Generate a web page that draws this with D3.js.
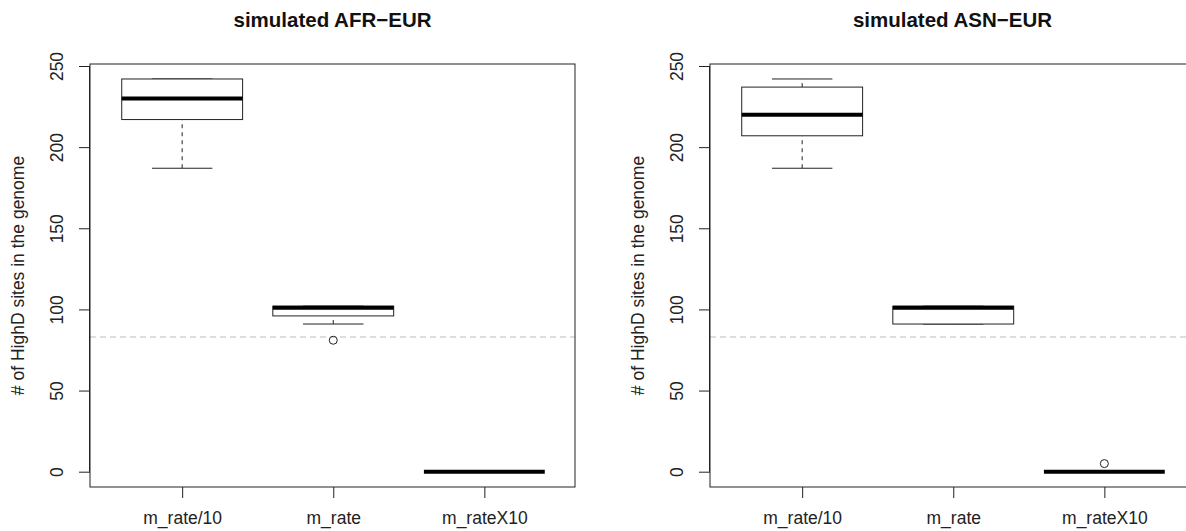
<!DOCTYPE html>
<html>
<head>
<meta charset="utf-8">
<script src="https://cdn.jsdelivr.net/npm/d3@7"></script>
<style>
  html, body { margin: 0; padding: 0; background: #fff; }
  svg { display: block; font-family: "Liberation Sans", Arial, sans-serif; }
</style>
</head>
<body>
<svg id="chart" width="1186" height="531"></svg>
<script>
// Group labels along the x axis
const categories = ["m_rate/10", "m_rate", "m_rateX10"];
const yTicks = [0, 50, 100, 150, 200, 250];

// Box summaries per group: [lower whisker, Q1, median, Q3, upper whisker]
const afrEurStats = [
  [187, 217, 230, 242, 242],
  [91, 96, 101, 102, 102],
  [0, 0, 0, 0, 0]
];
const afrEurOutliers = [[], [81], []];

const asnEurStats = [
  [187, 207, 220, 237, 242],
  [91, 91, 101, 102, 102],
  [0, 0, 0, 0, 0]
];
const asnEurOutliers = [[], [], [5]];

// Observed level drawn as a dashed reference line
const observedLevel = 83;

const panelTitles = ["simulated AFR\u2212EUR", "simulated ASN\u2212EUR"];
const yLabel = "# of HighD sites in the genome";

const svg = d3.select("#chart");

// Plot-region geometry (left panel); the second panel is shifted right
const plot = { left: 90, right: 575, top: 64, bottom: 487 };
const panelOffsets = [0, 620];

function drawPanel(offset, title, stats, outliers) {
  const g = svg.append("g").attr("transform", `translate(${offset},0)`);

  const x = d3.scaleLinear().domain([0.39, 3.6]).range([plot.left, plot.right]);
  const y = d3.scaleLinear().domain([0, 250]).range([471.7, 66]);
  const boxHalf = 0.4, capHalf = 0.2;

  // clip for reference line
  const clipId = "clip" + offset;
  g.append("clipPath").attr("id", clipId)
    .append("rect")
    .attr("x", plot.left).attr("y", plot.top)
    .attr("width", plot.right - plot.left).attr("height", plot.bottom - plot.top);

  // dashed reference line
  g.append("line")
    .attr("clip-path", `url(#${clipId})`)
    .attr("x1", plot.left).attr("x2", plot.right)
    .attr("y1", y(observedLevel)).attr("y2", y(observedLevel))
    .attr("stroke", "#bdbdbd").attr("stroke-width", 1.2)
    .attr("stroke-dasharray", "6,4");

  const groups = g.selectAll("g.box")
    .data(stats.map((s, i) => ({ s, i, out: outliers[i] })))
    .join("g").attr("class", "box");

  // whiskers (dashed)
  groups.append("line")
    .attr("x1", d => x(d.i + 1)).attr("x2", d => x(d.i + 1))
    .attr("y1", d => y(d.s[0])).attr("y2", d => y(d.s[1]))
    .attr("stroke", "#222").attr("stroke-dasharray", "4,4");
  groups.append("line")
    .attr("x1", d => x(d.i + 1)).attr("x2", d => x(d.i + 1))
    .attr("y1", d => y(d.s[3])).attr("y2", d => y(d.s[4]))
    .attr("stroke", "#222").attr("stroke-dasharray", "4,4");

  // whisker caps
  [0, 4].forEach(k => {
    groups.append("line")
      .attr("x1", d => x(d.i + 1 - capHalf)).attr("x2", d => x(d.i + 1 + capHalf))
      .attr("y1", d => y(d.s[k])).attr("y2", d => y(d.s[k]))
      .attr("stroke", "#222");
  });

  // boxes
  groups.append("rect")
    .attr("x", d => x(d.i + 1 - boxHalf))
    .attr("width", d => x(d.i + 1 + boxHalf) - x(d.i + 1 - boxHalf))
    .attr("y", d => y(d.s[3]))
    .attr("height", d => y(d.s[1]) - y(d.s[3]))
    .attr("fill", "#fff").attr("stroke", "#222");

  // medians
  groups.append("line")
    .attr("x1", d => x(d.i + 1 - boxHalf)).attr("x2", d => x(d.i + 1 + boxHalf))
    .attr("y1", d => y(d.s[2])).attr("y2", d => y(d.s[2]))
    .attr("stroke", "#000").attr("stroke-width", 4);

  // outliers
  groups.selectAll("circle")
    .data(d => d.out.map(v => ({ v, i: d.i })))
    .join("circle")
    .attr("cx", d => x(d.i + 1)).attr("cy", d => y(d.v))
    .attr("r", 4).attr("fill", "none").attr("stroke", "#222");

  // frame
  g.append("rect")
    .attr("x", plot.left).attr("y", plot.top)
    .attr("width", plot.right - plot.left).attr("height", plot.bottom - plot.top)
    .attr("fill", "none").attr("stroke", "#222");

  // y axis (ticks + rotated labels)
  const yAxis = g.append("g").attr("transform", `translate(${plot.left},0)`)
    .call(d3.axisLeft(y).tickValues(yTicks).tickSize(11).tickPadding(8).tickSizeOuter(0));
  yAxis.select(".domain").attr("d", `M-0.5,${y(0)}V${y(250)}`).attr("stroke", "#222");
  yAxis.selectAll(".tick line").attr("stroke", "#222");
  yAxis.selectAll(".tick text")
    .attr("font-size", 17.5).attr("fill", "#222")
    .attr("transform", "rotate(-90)")
    .attr("x", 0).attr("y", -27)
    .attr("dy", "0").attr("text-anchor", "middle");

  // x axis
  const xAxis = g.append("g").attr("transform", `translate(0,${plot.bottom})`)
    .call(d3.axisBottom(x).tickValues([1, 2, 3]).tickFormat(d => categories[d - 1])
      .tickSize(11).tickPadding(14));
  xAxis.select(".domain").remove();
  xAxis.selectAll(".tick line").attr("stroke", "#222");
  xAxis.selectAll(".tick text").attr("font-size", 17.5).attr("fill", "#222");

  // title
  g.append("text")
    .attr("x", (plot.left + plot.right) / 2).attr("y", 27)
    .attr("text-anchor", "middle")
    .attr("font-size", 20.5).attr("font-weight", "bold").attr("fill", "#111")
    .text(title);

  // y axis title
  g.append("text")
    .attr("transform", `translate(24,${(plot.top + plot.bottom) / 2}) rotate(-90)`)
    .attr("text-anchor", "middle")
    .attr("font-size", 17.5).attr("fill", "#222")
    .text(yLabel);
}

drawPanel(panelOffsets[0], panelTitles[0], afrEurStats, afrEurOutliers);
drawPanel(panelOffsets[1], panelTitles[1], asnEurStats, asnEurOutliers);
</script>
</body>
</html>
